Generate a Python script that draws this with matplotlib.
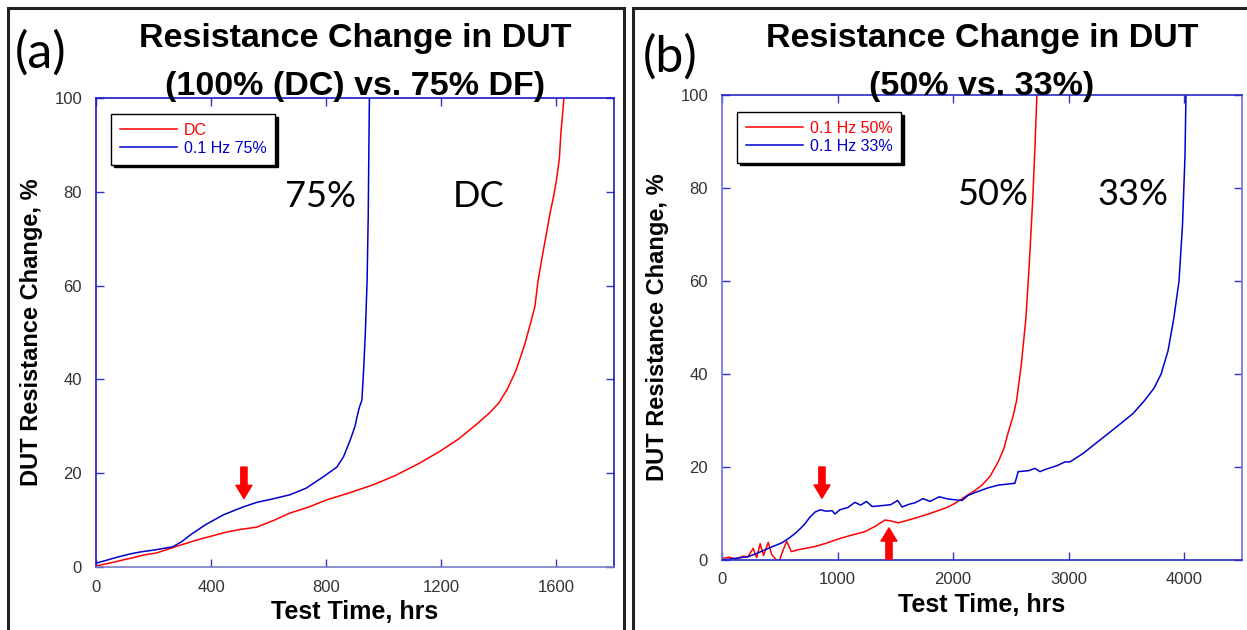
import matplotlib
matplotlib.use("Agg")
import matplotlib.pyplot as plt
from matplotlib.patches import Rectangle

# ---- panel (a): DC vs 0.1 Hz 75 % duty factor ----
dc_t = [0, 30, 60, 94, 130, 170, 211, 250, 290, 327, 365, 402, 450, 500, 559, 620, 674,
        740, 801, 880, 962, 1040, 1120, 1196, 1260, 1320, 1370, 1400, 1430, 1460, 1490,
        1510, 1525, 1536, 1550, 1565, 1578, 1590, 1600, 1610, 1616, 1622, 1626]
dc_r = [0.2, 0.6, 1.0, 1.5, 2.0, 2.6, 3.0, 3.8, 4.6, 5.3, 6.0, 6.6, 7.4, 8.0, 8.5, 10.0, 11.5,
        12.8, 14.3, 15.8, 17.5, 19.5, 22.0, 24.7, 27.3, 30.3, 33.0, 35.0, 38.0, 42.0, 47.5,
        52.0, 55.5, 61.0, 66.0, 71.0, 75.5, 79.0, 82.5, 87.0, 93.0, 97.0, 100.0]

hz75_t = [0, 40, 80, 120, 153, 200, 267, 300, 327, 380, 442, 511, 560, 620, 674, 730, 789,
          837, 860, 883, 900, 907, 915, 924, 930, 936, 942, 946, 948, 950]
hz75_r = [0.8, 1.5, 2.2, 2.8, 3.2, 3.6, 4.3, 5.5, 6.8, 9.0, 11.1, 12.8, 13.8, 14.6, 15.4, 16.8,
          19.2, 21.3, 23.5, 27.0, 30.0, 32.0, 34.0, 35.6, 42.0, 50.0, 61.0, 75.0, 88.0, 100.0]

# ---- panel (b): 0.1 Hz 50 % vs 0.1 Hz 33 % ----
hz50_t = [0, 60, 120, 180, 225, 270, 300, 330, 360, 400, 430, 470, 500, 519, 560, 600, 658,
          720, 805, 900, 1004, 1100, 1237, 1330, 1410, 1460, 1525, 1600, 1670, 1800, 1958,
          2030, 2103, 2180, 2250, 2320, 2390, 2440, 2475, 2520, 2550, 2590, 2630, 2660,
          2690, 2710, 2725]
hz50_r = [0.3, 0.6, 0.2, 0.8, 0.7, 2.5, 0.5, 3.5, 1.0, 3.8, 1.2, 0.0, 0.0, 1.5, 4.0, 1.8, 2.2,
          2.5, 2.9, 3.6, 4.5, 5.2, 6.1, 7.3, 8.6, 8.4, 8.0, 8.5, 9.0, 10.0, 11.4,
          12.4, 13.6, 14.8, 16.1, 18.0, 21.1, 24.0, 27.3, 31.0, 34.4, 42.0, 52.0, 64.0,
          78.0, 90.0, 100.0]

hz33_t = [0, 100, 225, 300, 372, 450, 519, 580, 632, 680, 718, 760, 805, 850, 900, 952, 978,
          1020, 1090, 1150, 1200, 1250, 1300, 1385, 1460, 1520, 1558, 1620, 1670, 1740, 1800,
          1880, 1958, 2077, 2130, 2189, 2300, 2390, 2460, 2535, 2563, 2650, 2709, 2752, 2800,
          2838, 2900, 2968, 3011, 3124, 3271, 3418, 3557, 3660, 3740, 3800, 3860, 3910, 3955,
          3985, 4007, 4015]
hz33_r = [0.0, 0.3, 0.7, 1.4, 2.2, 3.0, 3.7, 4.7, 5.7, 6.8, 7.8, 9.2, 10.3, 10.8, 10.5, 10.6,
          9.9, 10.8, 11.3, 12.4, 11.8, 12.6, 11.5, 11.7, 11.9, 12.8, 11.4, 12.0, 12.3, 13.2,
          12.6, 13.6, 13.1, 12.8, 13.9, 14.5, 15.5, 16.1, 16.3, 16.5, 19.0, 19.2, 19.7, 19.0,
          19.5, 19.8, 20.3, 21.1, 21.1, 22.9, 25.8, 28.7, 31.5, 34.4, 37.0, 40.0, 45.0, 52.0,
          60.0, 72.0, 87.0, 100.0]

a_xticks = [0, 400, 800, 1200, 1600]
b_xticks = [0, 1000, 2000, 3000, 4000]
y_ticks = [0, 20, 40, 60, 80, 100]

RED = "#ff0000"
BLUE = "#0000cc"
SANS = "Liberation Sans"
HAND = "Lato"

fig = plt.figure(figsize=(12.47, 6.30), dpi=100)
fig.patch.set_facecolor("white")

# panel frames
fig.patches.append(Rectangle((8 / 1247, -0.05), 616 / 1247, 1 - 8 / 630 + 0.05,
                             transform=fig.transFigure, fill=False,
                             edgecolor="#222222", linewidth=2.2))
fig.patches.append(Rectangle((633 / 1247, -0.05), 0.5, 1 - 8 / 630 + 0.05,
                             transform=fig.transFigure, fill=False,
                             edgecolor="#222222", linewidth=2.2))

ax_a = fig.add_axes([96 / 1247, 1 - 567 / 630, 518 / 1247, 469 / 630])
ax_b = fig.add_axes([722 / 1247, 1 - 560 / 630, 520 / 1247, 465 / 630])


def style_axes(ax, xlim, xticks, spine_cols):
    ax.set_xlim(*xlim)
    ax.set_ylim(0, 100)
    ax.set_xticks(xticks)
    ax.set_yticks(y_ticks)
    for side, col in spine_cols.items():
        ax.spines[side].set_color(col)
        ax.spines[side].set_linewidth(1.2)
    ax.tick_params(direction="in", length=6, width=1.0, color="#3333cc",
                   top=True, right=True, labelsize=12, labelcolor="#333333")
    ax.tick_params(axis="y", pad=10)
    ax.tick_params(axis="x", pad=9)
    for lab in ax.get_xticklabels() + ax.get_yticklabels():
        lab.set_fontfamily(SANS)
    ax.set_xlabel("Test Time, hrs", fontsize=18, fontweight="bold", family=SANS,
                  labelpad=4)
    ax.set_ylabel("DUT Resistance Change, %", fontsize=17, fontweight="bold",
                  family=SANS, labelpad=8)


style_axes(ax_a, (0, 1800), a_xticks,
           {"left": "#1a1acc", "right": "#1a1acc", "top": "#1a1acc", "bottom": "#7c7cc8"})
style_axes(ax_b, (0, 4500), b_xticks,
           {"left": "#7070e0", "right": "#7070e0", "top": "#2a2acc", "bottom": "#2a2acc"})

ax_a.plot(dc_t, dc_r, color=RED, lw=1.1, label="DC")
ax_a.plot(hz75_t, hz75_r, color=BLUE, lw=1.1, label="0.1 Hz 75%")
ax_b.plot(hz50_t, hz50_r, color=RED, lw=1.1, label="0.1 Hz 50%")
ax_b.plot(hz33_t, hz33_r, color=BLUE, lw=1.1, label="0.1 Hz 33%")

for ax, anchor in ((ax_a, (0.029, 0.966)), (ax_b, (0.029, 0.964))):
    leg = ax.legend(loc="upper left", bbox_to_anchor=anchor, borderaxespad=0,
                    fancybox=False, shadow={"color": "black", "alpha": 1.0},
                    edgecolor="black", framealpha=1, handlelength=3.6,
                    handletextpad=0.4, labelspacing=0.2, borderpad=0.55,
                    labelcolor="linecolor", prop={"family": SANS, "size": 11.5})
    leg.get_frame().set_linewidth(1.0)

# curve tags
ax_a.text(905, 79, "75%", fontsize=26, family=HAND, ha="right", va="center")
ax_a.text(1330, 79, "DC", fontsize=26, family=HAND, ha="center", va="center")
ax_b.text(2650, 78.5, "50%", fontsize=26, family=HAND, ha="right", va="center")
ax_b.text(3860, 78.5, "33%", fontsize=26, family=HAND, ha="right", va="center")

# red marker arrows
arrow_style = "simple,head_width=11.5,head_length=9.5,tail_width=4.5"
arrow_kw = dict(arrowstyle=arrow_style, color=RED, shrinkA=0, shrinkB=0,
                mutation_scale=1)
ax_a.annotate("", xy=(514, 14.6), xytext=(514, 21.3), arrowprops=arrow_kw)
ax_b.annotate("", xy=(865, 13.3), xytext=(865, 20.0), arrowprops=arrow_kw)
ax_b.annotate("", xy=(1445, 6.9), xytext=(1445, 0.2), arrowprops=arrow_kw)

# panel titles and letters
for cx, lines in ((355, ["Resistance Change in DUT", "(100% (DC) vs. 75% DF)"]),
                  (982, ["Resistance Change in DUT", "(50% vs. 33%)"])):
    fig.text(cx / 1247, 1 - 39 / 630, lines[0], fontsize=24.5, fontweight="bold",
             family=SANS, ha="center", va="center")
    fig.text(cx / 1247, 1 - 87 / 630, lines[1], fontsize=24.5, fontweight="bold",
             family=SANS, ha="center", va="center")

fig.text(15 / 1247, 1 - 53 / 630, "(a)", fontsize=36, family=HAND, va="center")
fig.text(643 / 1247, 1 - 57 / 630, "(b)", fontsize=36, family=HAND, va="center")

fig.savefig("out.png", dpi=100)
